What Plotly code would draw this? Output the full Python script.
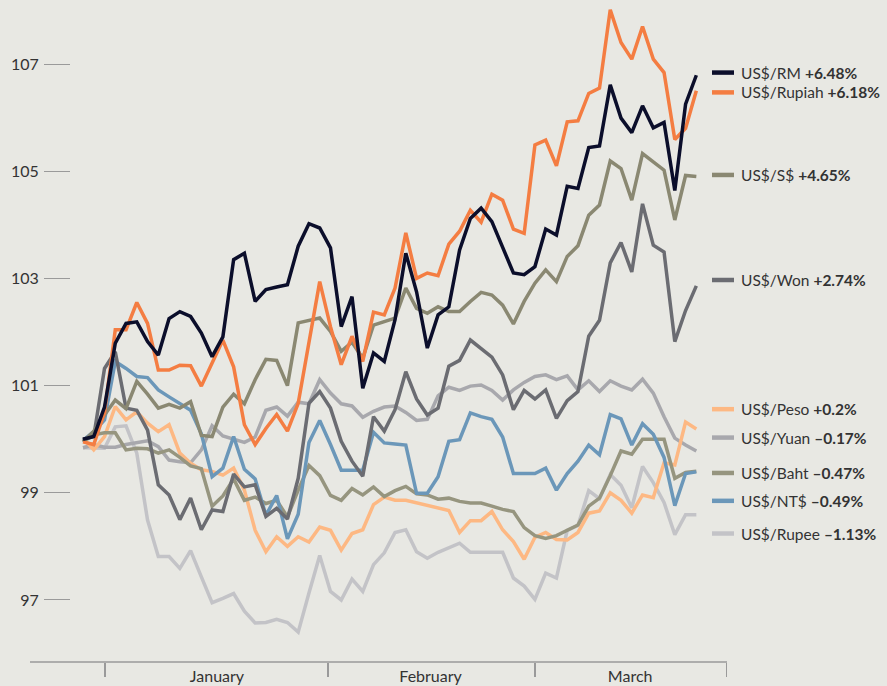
import plotly.graph_objects as go

# ---- data (index = trading day, Jan–Mar) ----
days = list(range(58))

rm = [100.0, 100.05, 100.6, 101.79, 102.16, 102.19, 101.82, 101.57, 102.25, 102.38,
      102.29, 101.98, 101.54, 101.91, 103.35, 103.47, 102.57, 102.79, 102.84, 102.88,
      103.60, 104.02, 103.94, 103.57, 102.10, 102.66, 100.95, 101.61, 101.45, 102.23,
      103.47, 102.75, 101.70, 102.32, 102.47, 103.53, 104.12, 104.31, 104.06, 103.59,
      103.10, 103.07, 103.22, 103.92, 103.81, 104.72, 104.68, 105.44, 105.47, 106.61,
      105.99, 105.72, 106.22, 105.81, 105.91, 104.64, 106.25, 106.79]
rupiah = [99.95, 99.9, 100.5, 102.04, 102.04, 102.55, 102.16, 101.29, 101.29, 101.38,
          101.37, 100.99, 101.42, 101.85, 101.35, 100.27, 99.90, 100.2, 100.46, 100.15,
          100.67, 101.8, 102.94, 102.1, 101.39, 101.92, 101.45, 102.37, 102.32, 102.82,
          103.85, 103.0, 103.1, 103.05, 103.64, 103.88, 104.27, 104.05, 104.57, 104.46,
          103.92, 103.84, 105.49, 105.58, 105.1, 105.92, 105.94, 106.45, 106.55, 108.01,
          107.4, 107.09, 107.7, 107.09, 106.84, 105.59, 105.8, 106.5]
sgd = [99.95, 100.15, 100.45, 100.73, 100.57, 101.08, 100.84, 100.58, 100.65, 100.58,
       100.70, 100.07, 100.05, 100.6, 100.84, 100.66, 101.11, 101.49, 101.47, 101.0,
       102.17, 102.22, 102.26, 102.01, 101.64, 101.81, 101.51, 102.13, 102.2, 102.26,
       102.82, 102.44, 102.35, 102.47, 102.38, 102.38, 102.57, 102.74, 102.69, 102.5,
       102.15, 102.57, 102.91, 103.16, 102.94, 103.41, 103.61, 104.18, 104.37, 105.19,
       105.05, 104.46, 105.33, 105.18, 105.02, 104.09, 104.92, 104.9]
won = [100.0, 100.05, 101.32, 101.63, 100.58, 100.54, 100.17, 99.15, 98.96, 98.5,
       98.9, 98.31, 98.68, 98.65, 99.35, 99.11, 99.15, 98.56, 98.71, 98.51,
       99.27, 100.67, 100.89, 100.58, 99.96, 99.59, 99.31, 100.42, 100.15, 100.55,
       101.26, 100.75, 100.45, 100.58, 101.36, 101.47, 101.85, 101.7, 101.53, 101.2,
       100.55, 100.91, 100.75, 100.92, 100.39, 100.72, 100.89, 101.92, 102.22, 103.29,
       103.67, 103.12, 104.39, 103.62, 103.49, 101.82, 102.4, 102.86]
peso = [100.02, 99.8, 100.05, 100.61, 100.36, 100.51, 100.3, 100.14, 100.27, 99.74,
        99.55, 99.43, 99.4, 99.33, 99.46, 99.05, 98.3, 97.9, 98.18, 98.0,
        98.18, 98.08, 98.36, 98.3, 97.93, 98.24, 98.31, 98.78, 98.92, 98.86,
        98.86, 98.81, 98.76, 98.71, 98.67, 98.26, 98.48, 98.48, 98.65, 98.31,
        98.09, 97.76, 98.17, 98.26, 98.13, 98.12, 98.26, 98.62, 98.66, 99.0,
        98.86, 98.62, 98.96, 98.91, 99.56, 99.52, 100.32, 100.19]
yuan = [99.84, 99.9, 99.85, 99.85, 99.9, 99.93, 99.97, 99.86, 99.61, 99.58,
        99.56, 99.8, 100.25, 100.06, 100.0, 99.94, 100.04, 100.54, 100.6, 100.43,
        100.69, 100.66, 101.11, 100.86, 100.66, 100.62, 100.41, 100.52, 100.6, 100.62,
        100.5, 100.35, 100.37, 100.81, 100.97, 100.91, 100.99, 101.01, 100.91, 100.73,
        100.92, 101.06, 101.17, 101.2, 101.11, 101.18, 100.92, 101.09, 100.89, 101.09,
        100.99, 100.92, 101.12, 100.86, 100.42, 100.02, 99.89, 99.78]
baht = [99.95, 100.08, 100.12, 100.12, 99.8, 99.83, 99.82, 99.74, 99.8, 99.66,
        99.5, 99.45, 98.75, 98.94, 99.26, 98.86, 98.92, 98.8, 98.86, 98.55,
        99.05, 99.51, 99.32, 98.95, 98.86, 99.08, 98.96, 99.11, 98.93, 99.04,
        99.12, 98.98, 98.96, 98.88, 98.9, 98.84, 98.81, 98.81, 98.75, 98.69,
        98.65, 98.35, 98.2, 98.15, 98.2, 98.3, 98.4, 98.75, 98.9, 99.32,
        99.78, 99.72, 100.0, 100.0, 100.0, 99.27, 99.38, 99.4]
ntd = [99.98, 100.14, 100.36, 101.45, 101.32, 101.17, 101.15, 100.92, 100.79, 100.67,
       100.54, 100.1, 99.30, 99.46, 100.05, 99.44, 99.26, 98.58, 98.95, 98.14,
       98.6, 99.94, 100.35, 99.9, 99.42, 99.42, 99.42, 100.13, 99.93, 99.91,
       99.89, 98.99, 98.99, 99.3, 99.96, 99.99, 100.49, 100.42, 100.37, 100.04,
       99.36, 99.36, 99.36, 99.46, 99.05, 99.36, 99.59, 99.89, 99.71, 100.46,
       100.38, 99.89, 100.29, 100.09, 99.66, 98.76, 99.36, 99.39]
rupee = [99.84, 99.83, 99.83, 100.23, 100.25, 99.74, 98.49, 97.81, 97.81, 97.59,
         97.92, 97.43, 96.95, 97.03, 97.12, 96.79, 96.57, 96.58, 96.64, 96.58,
         96.4, 97.13, 97.83, 97.16, 97.0, 97.39, 97.16, 97.66, 97.88, 98.26,
         98.31, 97.9, 97.78, 97.89, 97.97, 98.06, 97.89, 97.89, 97.89, 97.89,
         97.41, 97.26, 97.01, 97.5, 97.41, 98.3, 98.39, 99.04, 98.89, 99.34,
         99.14, 98.72, 99.49, 99.19, 98.82, 98.22, 98.59, 98.59]

names = ["US$/RM", "US$/Rupiah", "US$/S$", "US$/Won", "US$/Peso",
         "US$/Yuan", "US$/Baht", "US$/NT$", "US$/Rupee"]
changes = ["+6.48%", "+6.18%", "+4.65%", "+2.74%", "+0.2%",
           "–0.17%", "–0.47%", "–0.49%", "–1.13%"]
values = [rm, rupiah, sgd, won, peso, yuan, baht, ntd, rupee]

month_labels = ["January", "February", "March"]
month_centres = [12.45, 32.3, 50.85]
month_bounds = [2.05, 22.75, 42.0, 59.8]
y_ticks = [97, 99, 101, 103, 105, 107]

# ---- styling ----
colors = ["#0b0e2b", "#f47d42", "#8a8872", "#6b6c72", "#fdb883",
          "#a8a8ad", "#96957f", "#6b97b9", "#c3c3c7"]
label_y = [106.84, 106.47, 104.93, 102.97, 100.56, 100.03, 99.37, 98.85, 98.24]
draw_order = [8, 5, 4, 6, 7, 3, 2, 1, 0]
bg = "#e8e8e3"

fig = go.Figure()
for k in draw_order:
    fig.add_trace(go.Scatter(x=days, y=values[k], mode="lines", name=names[k],
                             line=dict(color=colors[k], width=3.5),
                             hoverinfo="skip", showlegend=False))

L, R = 71, 727
pw = R - L
def px2paper(p):
    return (p - L) / pw

shapes = [dict(type="line", xref="paper", yref="paper",
               x0=px2paper(30), x1=1, y0=0, y1=0,
               line=dict(color="#9a9a9a", width=1.5))]
annotations = []
for k in range(len(names)):
    shapes.append(dict(type="line", xref="paper", yref="y",
                       x0=px2paper(712), x1=px2paper(734),
                       y0=label_y[k], y1=label_y[k],
                       line=dict(color=colors[k], width=4.5)))
    annotations.append(dict(xref="paper", yref="y", x=px2paper(739), y=label_y[k],
                            xanchor="left", yanchor="middle", showarrow=False,
                            text=f"{names[k]} <b>{changes[k]}</b>",
                            font=dict(size=15.5, color="#333333")))

fig.update_layout(
    width=887, height=686,
    margin=dict(l=L, r=887 - R, t=0, b=24),
    paper_bgcolor=bg, plot_bgcolor=bg,
    font=dict(family="Lato, 'Open Sans', sans-serif", color="#333333"),
    shapes=shapes, annotations=annotations,
    xaxis=dict(range=[-1.114, 59.85], showgrid=False, zeroline=False, showline=False,
               tickmode="array", tickvals=month_centres, ticktext=month_labels,
               ticks="", tickfont=dict(size=16, color="#333333"), ticklabelstandoff=3,
               minor=dict(tickmode="array", tickvals=month_bounds, ticks="outside",
                          ticklen=14, tickcolor="#9a9a9a", tickwidth=1.5),
               automargin=False),
    yaxis=dict(range=[95.843, 108.194], showgrid=False, zeroline=False, showline=False,
               tickmode="array", tickvals=y_ticks, ticks="outside", ticklen=26,
               tickcolor="#9a9a9a", tickwidth=1, ticklabelstandoff=2,
               tickfont=dict(size=16, color="#333333"), automargin=False),
)

fig.write_html("out.html",
               config={"displayModeBar": False, "staticPlot": True},
               post_script="document.body.style.margin='0';"
                           "document.body.style.background='#e8e8e3';"
                           "document.documentElement.style.overflow='hidden';")
